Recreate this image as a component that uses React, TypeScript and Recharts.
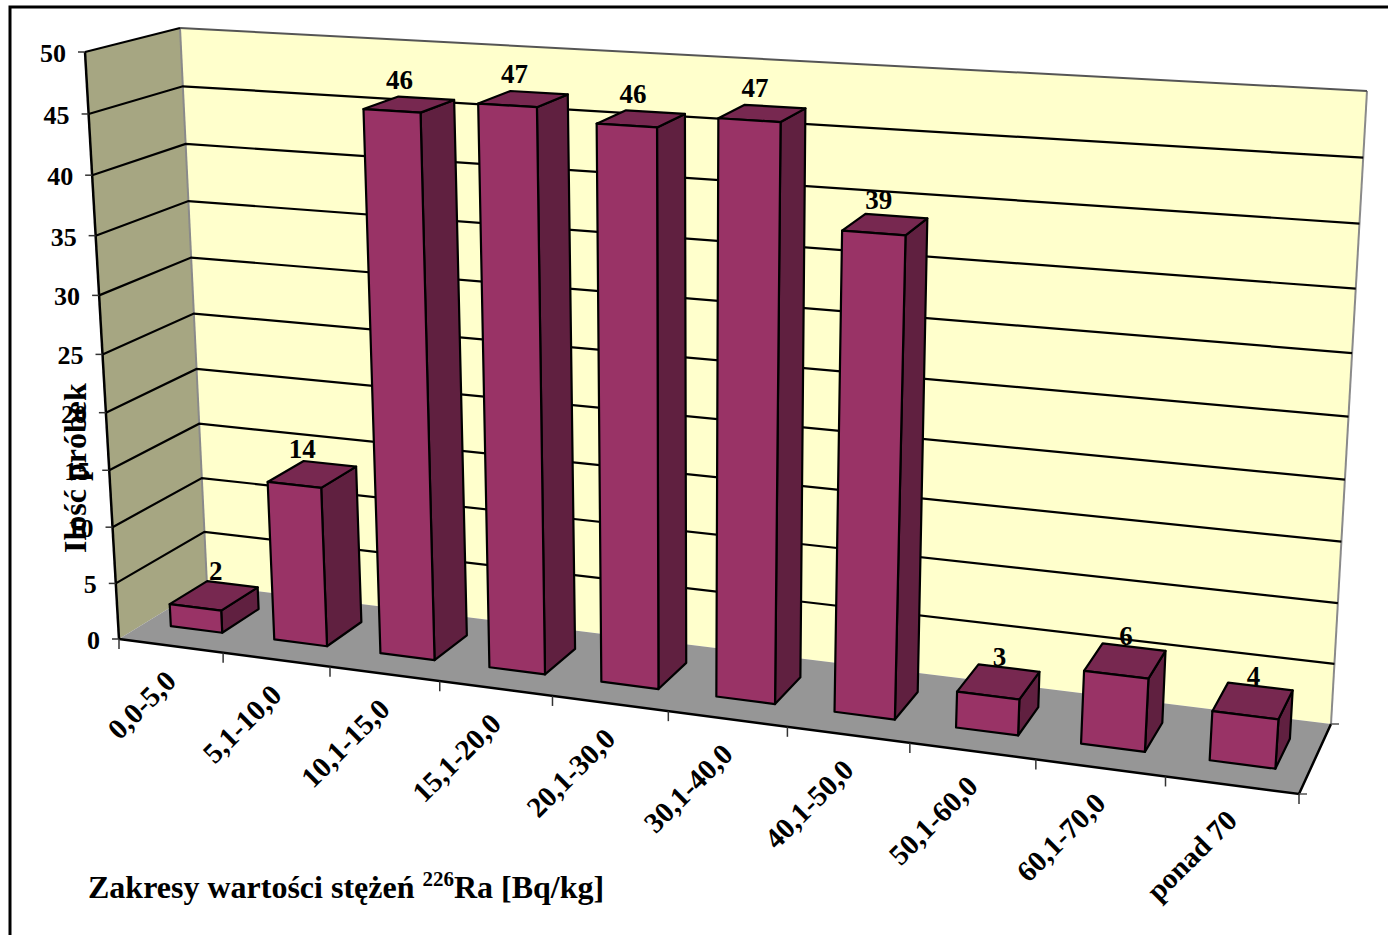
import { Bar, BarChart, Customized, ReferenceArea, ReferenceLine, XAxis, YAxis } from 'recharts';

const categories = ['0,0-5,0', '5,1-10,0', '10,1-15,0', '15,1-20,0', '20,1-30,0', '30,1-40,0', '40,1-50,0', '50,1-60,0', '60,1-70,0', 'ponad 70'];
const counts = [2, 14, 46, 47, 46, 47, 39, 3, 6, 4];
const valueTicks = [0, 5, 10, 15, 20, 25, 30, 35, 40, 45, 50];

const data = categories.map((name, i) => ({ name, count: counts[i] }));

const WIDTH = 1388;
const HEIGHT = 935;
// flat plot rectangle, everything in it is pushed through the projection below
const PLOT = { left: 100, top: 100, width: 1000, height: 500 };
const AXIS_SIZE = 40;
const FONT = '"Liberation Serif", serif';

type Pt = [number, number];
type Quad = [Pt, Pt, Pt, Pt];

// unit square to quad, corners: (0,0) (1,0) (1,1) (0,1)
const homography = ([p0, p1, p2, p3]: Quad) => {
  const dx1 = p1[0] - p2[0];
  const dx2 = p3[0] - p2[0];
  const sx = p0[0] - p1[0] + p2[0] - p3[0];
  const dy1 = p1[1] - p2[1];
  const dy2 = p3[1] - p2[1];
  const sy = p0[1] - p1[1] + p2[1] - p3[1];
  const det = dx1 * dy2 - dx2 * dy1;
  const g = (sx * dy2 - dx2 * sy) / det;
  const h = (dx1 * sy - sx * dy1) / det;
  const a = p1[0] - p0[0] + g * p1[0];
  const b = p3[0] - p0[0] + h * p3[0];
  const d = p1[1] - p0[1] + g * p1[1];
  const e = p3[1] - p0[1] + h * p3[1];
  return (u: number, v: number): Pt => {
    const w = g * u + h * v + 1;
    return [(a * u + b * v + p0[0]) / w, (d * u + e * v + p0[1]) / w];
  };
};

const frontPlane = homography([[119, 639], [1299, 794], [1345, 125], [85, 52]]);
const backPlane = homography([[207, 585], [1331, 724], [1367, 91], [180, 28]]);

const project = (u: number, v: number, depth: number): Pt => {
  const f = frontPlane(u, v);
  const b = backPlane(u, v);
  return [f[0] + (b[0] - f[0]) * depth, f[1] + (b[1] - f[1]) * depth];
};

const toU = (x: number) => (x - PLOT.left) / PLOT.width;
const toV = (y: number) => (PLOT.top + PLOT.height - y) / PLOT.height;
const pts = (list: Pt[]) => list.map((p) => p.join(',')).join(' ');

const DEPTH_NEAR = 0.3;
const DEPTH_FAR = 0.73;

const Box = ({ x, y, width, height, value }: any) => {
  const u1 = toU(x);
  const u2 = toU(x + width);
  const v1 = toV(y);
  const v0 = toV(y + height);
  const face = { stroke: '#000', strokeWidth: 2.2, strokeLinejoin: 'round' as const };
  // short bars carry their number further back on the top face
  const labelDepth = DEPTH_NEAR + (v1 < 0.15 ? 0.55 : 0.22) * (DEPTH_FAR - DEPTH_NEAR);
  const labelX = project((u1 + u2) / 2, v1, labelDepth)[0];
  const labelY = project((u1 + u2) / 2, v1, (DEPTH_NEAR + DEPTH_FAR) / 2)[1] - 16;
  return (
    <g>
      <text x={labelX} y={labelY} textAnchor="middle" fontFamily={FONT} fontWeight="bold" fontSize={27} fill="#000">
        {Array.isArray(value) ? value[1] : value}
      </text>
      <polygon
        points={pts([project(u2, v0, DEPTH_NEAR), project(u2, v0, DEPTH_FAR), project(u2, v1, DEPTH_FAR), project(u2, v1, DEPTH_NEAR)])}
        fill="#602040"
        {...face}
      />
      <polygon
        points={pts([project(u1, v1, DEPTH_NEAR), project(u2, v1, DEPTH_NEAR), project(u2, v1, DEPTH_FAR), project(u1, v1, DEPTH_FAR)])}
        fill="#772850"
        {...face}
      />
      <polygon
        points={pts([project(u1, v0, DEPTH_NEAR), project(u2, v0, DEPTH_NEAR), project(u2, v1, DEPTH_NEAR), project(u1, v1, DEPTH_NEAR)])}
        fill="#993366"
        {...face}
      />
    </g>
  );
};

// side wall, back wall and floor of the box, spanning the whole value domain
const Walls = () => {
  const a0 = project(0, 0, 0);
  const a1 = project(1, 0, 0);
  const a2 = project(0, 1, 0);
  const b0 = project(0, 0, 1);
  const b1 = project(1, 0, 1);
  const b2 = project(1, 1, 1);
  const b3 = project(0, 1, 1);
  return (
    <g>
      <polygon points={pts([a0, b0, b3, a2])} fill="#A6A682" />
      <polygon points={pts([b0, b1, b2, b3])} fill="#FFFFCC" />
      <polygon points={pts([a0, a1, b1, b0])} fill="#969696" />
      <polyline points={pts([b0, b3])} fill="none" stroke="#8a8a8a" strokeWidth={2} />
      <polyline points={pts([b1, b2])} fill="none" stroke="#8a8a8a" strokeWidth={2} />
      <polyline points={pts([b3, b2])} fill="none" stroke="#555" strokeWidth={2} />
      <polyline points={pts([a2, b3])} fill="none" stroke="#000" strokeWidth={2} />
      <polyline points={pts([a0, a2])} fill="none" stroke="#000" strokeWidth={2.5} />
      <polyline points={pts([a0, a1, b1])} fill="none" stroke="#000" strokeWidth={2.5} />
      <line x1={b1[0]} y1={b1[1]} x2={b1[0] + 8} y2={b1[1]} stroke="#555" strokeWidth={1.5} />
      <line x1={a1[0]} y1={a1[1]} x2={a1[0] + 8} y2={a1[1]} stroke="#555" strokeWidth={1.5} />
    </g>
  );
};

const GridLine = ({ y1 }: any) => {
  const v = toV(y1);
  if (v <= 0 || v >= 1) return null;
  return <polyline points={pts([project(0, v, 0), project(0, v, 1), project(1, v, 1)])} fill="none" stroke="#000" strokeWidth={2.2} />;
};

const ValueTick = ({ y, payload }: any) => {
  const [px, py] = project(0, toV(y), 0);
  return (
    <g>
      <line x1={px - 7} y1={py} x2={px} y2={py} stroke="#333" strokeWidth={1.5} />
      <text x={px - 19} y={py + 10} textAnchor="end" fontFamily={FONT} fontWeight="bold" fontSize={26} fill="#000">
        {payload.value}
      </text>
    </g>
  );
};

const CategoryTick = ({ x, index, payload }: any) => {
  const u = toU(x);
  const [mx, my] = project(u, 0, 0);
  const bandLeft = project(index / categories.length, 0, 0);
  const bandRight = project(1, 0, 0);
  return (
    <g>
      <line x1={bandLeft[0]} y1={bandLeft[1]} x2={bandLeft[0]} y2={bandLeft[1] + 10} stroke="#333" strokeWidth={1.5} />
      {index === categories.length - 1 && (
        <line x1={bandRight[0]} y1={bandRight[1]} x2={bandRight[0]} y2={bandRight[1] + 10} stroke="#333" strokeWidth={1.5} />
      )}
      <text
        transform={`translate(${mx + 7} ${my + 37}) rotate(-45)`}
        textAnchor="end"
        fontFamily={FONT}
        fontWeight="bold"
        fontSize={29}
        fill="#000"
      >
        {payload.value}
      </text>
    </g>
  );
};

const Titles = () => (
  <g fontFamily={FONT} fontWeight="bold" fill="#000">
    <path d="M10 935 V7 H1388" fill="none" stroke="#000" strokeWidth={3} />
    <text x={88} y={898} fontSize={32}>
      Zakresy wartości stężeń{' '}
      <tspan fontSize={21} dy={-12}>226</tspan>
      <tspan dy={12}>Ra [Bq/kg]</tspan>
    </text>
    <text transform="translate(86 553) rotate(-90)" fontSize={32}>
      Ilość próbek
    </text>
  </g>
);

export default function App() {
  return (
    <div style={{ position: 'absolute', left: 0, top: 0, width: WIDTH, height: HEIGHT, background: '#fff', overflow: 'hidden' }}>
      <BarChart
        width={WIDTH}
        height={HEIGHT}
        data={data}
        barSize={50}
        margin={{
          left: PLOT.left - AXIS_SIZE,
          top: PLOT.top,
          right: WIDTH - PLOT.left - PLOT.width,
          bottom: HEIGHT - PLOT.top - PLOT.height - AXIS_SIZE,
        }}
      >
        <XAxis dataKey="name" height={AXIS_SIZE} axisLine={false} tickLine={false} interval={0} tick={<CategoryTick />} />
        <YAxis width={AXIS_SIZE} domain={[0, 50]} ticks={valueTicks} axisLine={false} tickLine={false} tick={<ValueTick />} />
        <ReferenceArea y1={0} y2={50} ifOverflow="visible" zIndex={-200} shape={<Walls />} />
        {valueTicks.map((t) => (
          <ReferenceLine key={t} y={t} ifOverflow="visible" zIndex={-100} shape={<GridLine />} />
        ))}
        <Bar dataKey="count" isAnimationActive={false} shape={<Box />} />
        <Customized component={<Titles />} />
      </BarChart>
    </div>
  );
}
